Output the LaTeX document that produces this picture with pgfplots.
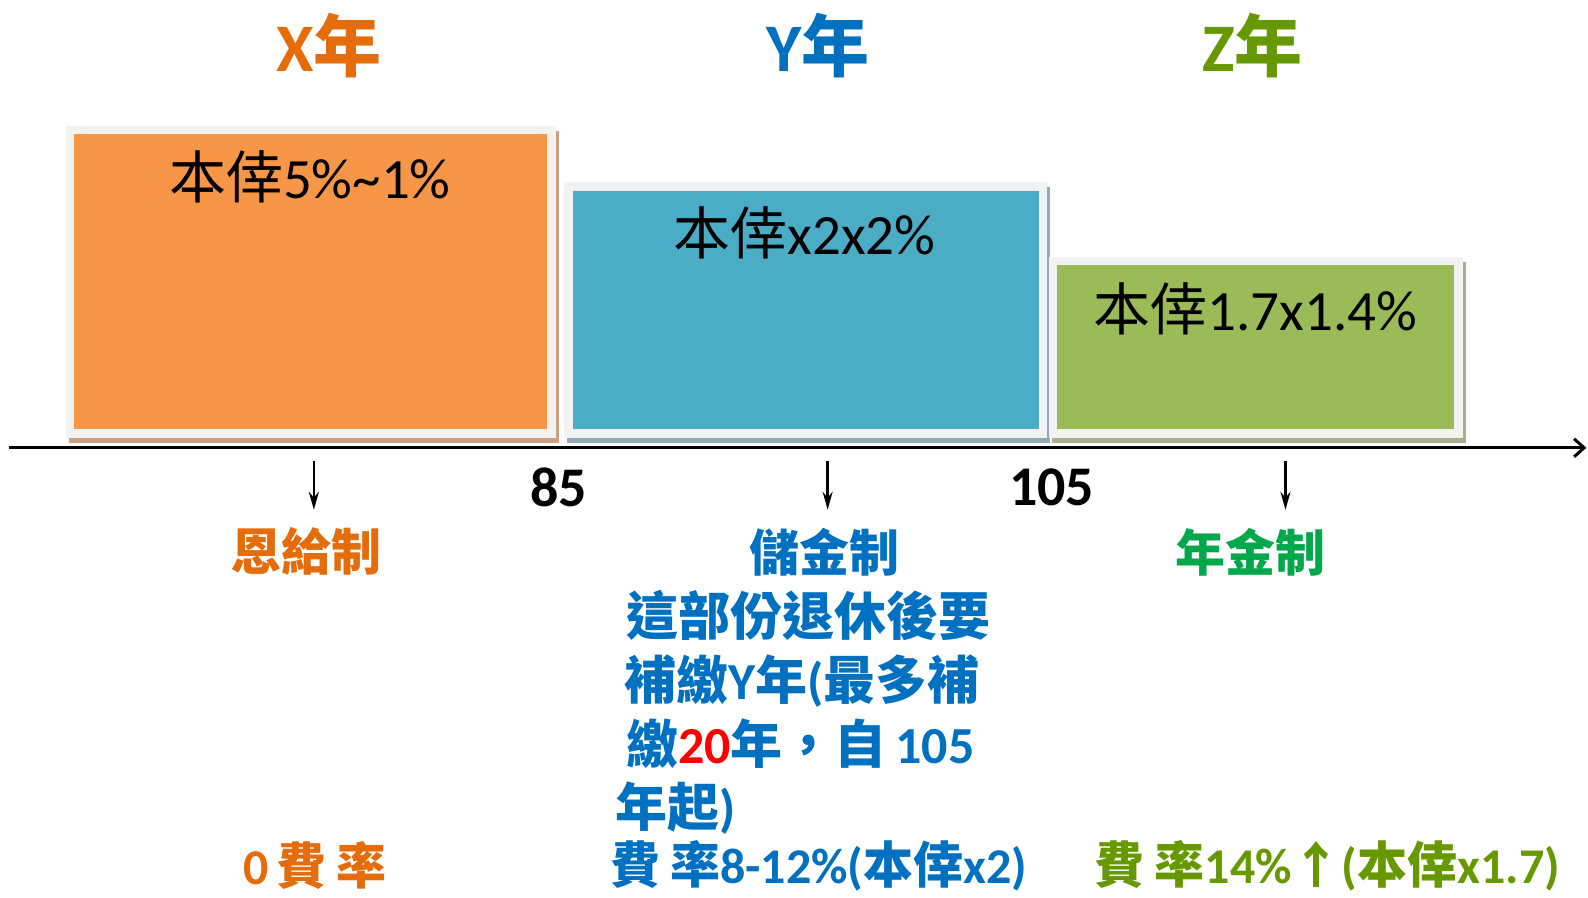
\documentclass[border=0pt]{standalone}
\usepackage{fontspec}
\setmainfont{Carlito}
\newfontfamily\cjk{Noto Sans CJK TC}
\usepackage{pgfplots}
\pgfplotsset{compat=1.18}
\usetikzlibrary{arrows.meta}
\definecolor{barO}{HTML}{F79646}
\definecolor{barB}{HTML}{4BACC6}
\definecolor{barG}{HTML}{9BBB59}
\definecolor{brd}{HTML}{F2F2F2}
\definecolor{shO}{HTML}{C9A082}
\definecolor{shB}{HTML}{8FABB3}
\definecolor{shG}{HTML}{A8AF8F}
\definecolor{txO}{HTML}{E46C0A}
\definecolor{txB}{HTML}{0070C0}
\definecolor{txG}{HTML}{669900}
\definecolor{txGG}{HTML}{00A84A}
\newcommand{\C}[1]{{\cjk #1}}
\begin{document}
\begin{tikzpicture}
\begin{axis}[
  scale only axis, width=794pt, height=449pt,
  xmin=0, xmax=1588, ymin=0, ymax=898, y dir=reverse,
  axis lines=none, clip=false,
]
\path (rel axis cs:0,0) rectangle (rel axis cs:1,1);
% bar 1
\addplot[fill=shO, draw=none] coordinates {(69,131) (559,131) (559,443) (69,443)} -- cycle;
\addplot[fill=brd, draw=none] coordinates {(66,126) (556,126) (556,438) (66,438)} -- cycle;
\addplot[fill=barO, draw=none] coordinates {(74,134) (547,134) (547,429) (74,429)} -- cycle;
% bar 2
\addplot[fill=shB, draw=none] coordinates {(567,187) (1050,187) (1050,443) (567,443)} -- cycle;
\addplot[fill=brd, draw=none] coordinates {(564,182) (1047,182) (1047,438) (564,438)} -- cycle;
\addplot[fill=barB, draw=none] coordinates {(573,191) (1039,191) (1039,429) (573,429)} -- cycle;
% bar 3
\addplot[fill=shG, draw=none] coordinates {(1052,262) (1467,262) (1467,443) (1052,443)} -- cycle;
\addplot[fill=brd, draw=none] coordinates {(1049,257) (1464,257) (1464,438) (1049,438)} -- cycle;
\addplot[fill=barG, draw=none] coordinates {(1057,265) (1455,265) (1455,429) (1057,429)} -- cycle;
% time axis
\draw[line width=1.5pt, -{Straight Barb[length=5pt,width=9pt]}] (axis cs:9,448) -- (axis cs:1587,448);
\draw[line width=1.2pt, -{Stealth[length=9pt,width=5pt]}] (axis cs:314,461) -- (axis cs:314,510);
\draw[line width=1.2pt, -{Stealth[length=9pt,width=5pt]}] (axis cs:828,461) -- (axis cs:828,510);
\draw[line width=1.2pt, -{Stealth[length=9pt,width=5pt]}] (axis cs:1286,461) -- (axis cs:1286,510);
% titles
\node[font=\fontsize{34}{36}\selectfont\bfseries, text=txO, inner sep=0] at (axis cs:329,46) {X\C{年}};
\node[font=\fontsize{34}{36}\selectfont\bfseries, text=txB, inner sep=0] at (axis cs:818,46) {Y\C{年}};
\node[font=\fontsize{34}{36}\selectfont\bfseries, text=txG, inner sep=0] at (axis cs:1253,46) {Z\C{年}};
% bar labels
\node[font=\fontsize{28.5}{32}\selectfont, inner sep=0] at (axis cs:310,177) {\C{本倖}5\%\textasciitilde 1\%};
\node[font=\fontsize{28.5}{32}\selectfont, inner sep=0] at (axis cs:805,233) {\C{本倖}x2x2\%};
\node[font=\fontsize{28.5}{32}\selectfont, inner sep=0] at (axis cs:1256,309) {\C{本倖}1.7x1.4\%};
% year labels
\node[font=\fontsize{28}{32}\selectfont\bfseries, inner sep=0] at (axis cs:559,488) {85};
\node[font=\fontsize{28}{32}\selectfont\bfseries, inner sep=0] at (axis cs:1052,488) {105};
% systems
\node[font=\fontsize{25}{30}\selectfont\bfseries, text=txO, inner sep=0] at (axis cs:307,552) {\C{恩給制}};
\node[font=\fontsize{25}{30}\selectfont\bfseries, text=txB, inner sep=0] at (axis cs:825,552) {\C{儲金制}};
\node[font=\fontsize{25}{30}\selectfont\bfseries, text=txGG, inner sep=0] at (axis cs:1251,552) {\C{年金制}};
% paragraph
\node[font=\fontsize{26}{30}\selectfont\bfseries, text=txB, inner sep=0, anchor=west] at (axis cs:626,616) {\C{這部份退休後要}};
\node[font=\fontsize{26}{30}\selectfont\bfseries, text=txB, inner sep=0, anchor=west] at (axis cs:624,681) {\C{補繳}Y\C{年}(\C{最多補}};
\node[font=\fontsize{26}{30}\selectfont\bfseries, text=txB, inner sep=0, anchor=west] at (axis cs:626,744) {\C{繳}\textcolor{red}{20}\C{年，自}\,105};
\node[font=\fontsize{26}{30}\selectfont\bfseries, text=txB, inner sep=0, anchor=west] at (axis cs:615,808) {\C{年起})};
% bottom row
\node[font=\fontsize{25}{30}\selectfont\bfseries, text=txO, inner sep=0] at (axis cs:315,866) {0\,\C{費\hspace{0.2em}率}};
\node[font=\fontsize{25}{30}\selectfont\bfseries, text=txB, inner sep=0] at (axis cs:819,866) {\C{費\hspace{0.2em}率}8-12\%(\C{本倖}x2)};
\node[font=\fontsize{25}{30}\selectfont\bfseries, text=txG, inner sep=0] at (axis cs:1328,866) {\C{費\hspace{0.2em}率}14\%\C{↑}(\C{本倖}x1.7)};
\end{axis}
\end{tikzpicture}
\end{document}
